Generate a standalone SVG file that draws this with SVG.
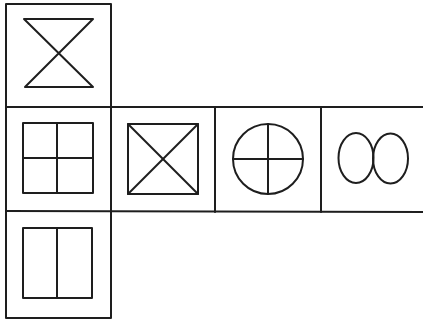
<svg xmlns="http://www.w3.org/2000/svg" width="423" height="322" viewBox="0 0 423 322">
<style>
.l{fill:none;stroke:#1e1e1e;stroke-width:2;stroke-linejoin:round;stroke-linecap:round}
</style>
<rect width="423" height="322" fill="#ffffff"/>
<g id="frame" class="l">
<rect x="6" y="4" width="105" height="314"/>
<line x1="6" y1="107" x2="423" y2="107"/>
<line x1="6" y1="211" x2="423" y2="212"/>
<line x1="215" y1="107" x2="215" y2="212"/>
<line x1="321" y1="107" x2="321" y2="212"/>
</g>
<g id="hourglass" class="l">
<polygon points="24,19 93,19 25,87 93,87"/>
</g>
<g id="grid" class="l">
<rect x="23" y="123" width="70" height="70"/>
<line x1="57" y1="123" x2="57" y2="193"/>
<line x1="23" y1="158" x2="93" y2="158"/>
</g>
<g id="xsquare" class="l">
<rect x="128" y="124" width="70" height="70"/>
<line x1="128" y1="124" x2="198" y2="194"/>
<line x1="198" y1="124" x2="128" y2="194"/>
</g>
<g id="circle" class="l">
<circle cx="268" cy="159" r="35"/>
<line x1="233" y1="159" x2="303" y2="159"/>
<line x1="268" y1="124" x2="268" y2="194"/>
</g>
<g id="ovals" class="l">
<ellipse cx="356" cy="158" rx="17.5" ry="25"/>
<ellipse cx="390.5" cy="158.5" rx="17.5" ry="25"/>
</g>
<g id="bars" class="l">
<rect x="23" y="228" width="69" height="70"/>
<line x1="57" y1="228" x2="57" y2="298"/>
</g>
</svg>
